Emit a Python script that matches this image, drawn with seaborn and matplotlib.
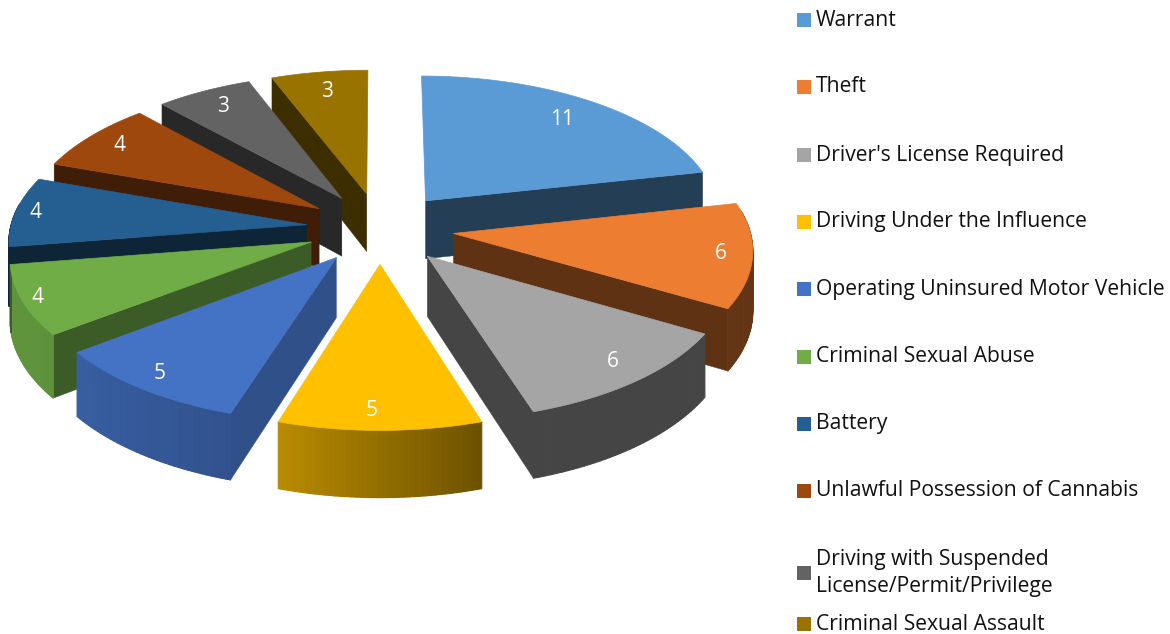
import numpy as np
import matplotlib
matplotlib.use("Agg")
import matplotlib.pyplot as plt
from matplotlib.patches import Rectangle
import seaborn as sns

categories = ["Warrant", "Theft", "Driver's License Required", "Driving Under the Influence",
              "Operating Uninsured Motor Vehicle", "Criminal Sexual Abuse", "Battery",
              "Unlawful Possession of Cannabis",
              "Driving with Suspended\nLicense/Permit/Privilege", "Criminal Sexual Assault"]
values = [11, 6, 6, 5, 5, 4, 4, 4, 3, 3]
hex_colors = ["#5B9BD5", "#ED7D31", "#A5A5A5", "#FFC000", "#4472C4",
              "#70AD47", "#255E91", "#9E480E", "#636363", "#997300"]
wall_shade = [0.40, 0.40, 0.42, 0.42, 0.70, 0.53, 0.38, 0.40, 0.40, 0.40]
label_r = [0.81, 0.895, 0.87, 0.89, 0.90, 0.95, 0.93, 0.87, 0.85, 0.83]
label_turn = [0, 0, -1.5, 1.6, 1, 0, 0, 0, 0, 0]

sns.set_theme(style="white")
plt.rcParams['font.family'] = ['Open Sans', 'DejaVu Sans']
palette = sns.color_palette(hex_colors)

fig, ax = plt.subplots(figsize=(11.7, 6.34), dpi=100)
fig.subplots_adjust(0, 0, 1, 1)
ax.set_xlim(0, 1170)
ax.set_ylim(634, 0)
ax.axis("off")

CX, CY, R, TILT, PERSP, HEIGHT, EXPLODE = 380, 228, 296, 0.48, 0.098, 59, 0.25

def project(u, v, z=0.0):
    s = 1 / (1 + PERSP * v)
    return CX + R * u * s, CY - R * TILT * v * s + HEIGHT * z * s

def outer_shade(t, side):
    d = np.degrees(t)
    if d >= 258:
        return side
    return float(np.interp(d, [0, 162, 197, 240, 360], [0.42, 0.42, 0.72, 0.85, 0.85]))

def darken(c, f):
    return tuple(np.array(c) * f)

edges = np.radians(np.concatenate([[0], np.cumsum(values)]) / sum(values) * 360)
mids = (edges[:-1] + edges[1:]) / 2
order = np.argsort(-np.cos(mids))

for i in order:
    a0, a1, m, col = edges[i], edges[i + 1], mids[i], palette[i]
    ou, ov = EXPLODE * np.sin(m), EXPLODE * np.cos(m)
    th = np.linspace(a0, a1, 40)
    us, vs = ou + np.sin(th), ov + np.cos(th)
    wc = darken(col, wall_shade[i])
    # radial walls that face the viewer
    for a, normal in ((a0, a0 - np.pi / 2), (a1, a1 + np.pi / 2)):
        if np.cos(normal) < -0.01:
            pts = [project(ou, ov, 0), project(ou + np.sin(a), ov + np.cos(a), 0),
                   project(ou + np.sin(a), ov + np.cos(a), 1), project(ou, ov, 1)]
            ax.fill(*zip(*pts), color=wc, lw=0.3, joinstyle="round", snap=False, zorder=1)
    # curved outer wall
    for k in range(len(th) - 1):
        t = (th[k] + th[k + 1]) / 2
        if np.cos(t) < 0.15:
            pts = [project(us[k], vs[k], 0), project(us[k + 1], vs[k + 1], 0),
                   project(us[k + 1], vs[k + 1], 1), project(us[k], vs[k], 1)]
            ax.fill(*zip(*pts), color=darken(col, outer_shade(t, wall_shade[i])),
                    lw=0.8, joinstyle="round", snap=False, zorder=1)
    # top face
    pts = [project(ou, ov)] + [project(a, b) for a, b in zip(us, vs)]
    ax.fill(*zip(*pts), color=col, lw=0.5, joinstyle="round", snap=False, zorder=1)
    # value label
    lt = m + np.radians(label_turn[i])
    lx, ly = project(ou + label_r[i] * np.sin(lt), ov + label_r[i] * np.cos(lt))
    ax.text(lx, ly, str(values[i]), color="white", fontsize=15, ha="center", va="center", zorder=5)

# legend
legend_y = [18, 85, 153, 220, 287, 355, 422, 489, 571, 622]
for name, y, col in zip(categories, legend_y, palette):
    ax.add_patch(Rectangle((797, y - 5), 14, 14, facecolor=col, edgecolor="none"))
    ax.text(816, y + 2, name, fontsize=15.2, color="#111111", ha="left", va="center", linespacing=1.42)

fig.savefig("out.png", dpi=100)
